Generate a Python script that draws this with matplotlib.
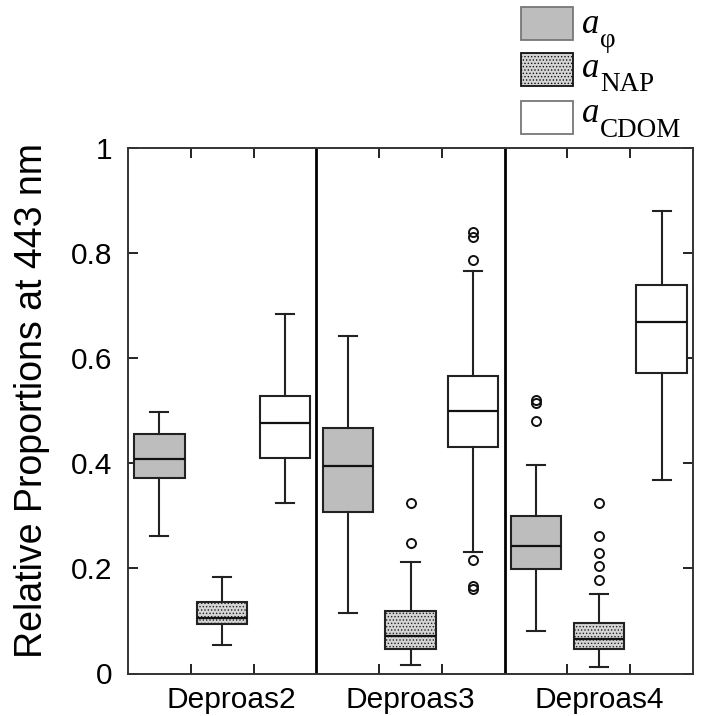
import matplotlib
matplotlib.use('Agg')
import matplotlib.pyplot as plt
from matplotlib.patches import Rectangle

plt.rcParams['font.family'] = ['Liberation Sans', 'DejaVu Sans']
plt.rcParams['hatch.linewidth'] = 0.6
plt.rcParams['hatch.color'] = '#9a9a9a'

# cruises and the three absorption components
cruises = ['Deproas2', 'Deproas3', 'Deproas4']
comp_subs = ['φ', 'NAP', 'CDOM']

# box statistics: [whislo, q1, med, q3, whishi]
a_phi = [[0.262, 0.372, 0.408, 0.455, 0.498],
         [0.116, 0.307, 0.395, 0.468, 0.642],
         [0.080, 0.199, 0.242, 0.299, 0.396]]
a_nap = [[0.054, 0.094, 0.106, 0.137, 0.183],
         [0.016, 0.046, 0.071, 0.119, 0.213],
         [0.013, 0.046, 0.066, 0.097, 0.152]]
a_cdom = [[0.324, 0.411, 0.477, 0.529, 0.685],
          [0.232, 0.431, 0.499, 0.567, 0.766],
          [0.368, 0.571, 0.668, 0.740, 0.881]]

# outliers
fliers_phi = [[], [], [0.481, 0.514, 0.521]]
fliers_nap = [[], [0.248, 0.325], [0.177, 0.205, 0.230, 0.261, 0.324]]
fliers_cdom = [[], [0.160, 0.167, 0.216, 0.786, 0.831, 0.840], []]

yticks = [0, 0.2, 0.4, 0.6, 0.8, 1]
ytick_labels = ['0', '0.2', '0.4', '0.6', '0.8', '1']

face_colors = ['#bdbdbd', '#d4d4d4', 'white']
hatches = [None, '.....', None]
legend_edges = ['#777777', '#111111', '#777777']


def make_stats(vals, fl):
    return {'whislo': vals[0], 'q1': vals[1], 'med': vals[2],
            'q3': vals[3], 'whishi': vals[4], 'fliers': fl}


W, H = 702, 716
fig = plt.figure(figsize=(W / 100, H / 100), dpi=100)
ax = fig.add_axes([128 / W, 1 - 673.5 / H, 565 / W, 525.5 / H])

all_stats = [a_phi, a_nap, a_cdom]
all_fliers = [fliers_phi, fliers_nap, fliers_cdom]

for k in range(3):
    stats = [make_stats(all_stats[k][i], all_fliers[k][i]) for i in range(3)]
    positions = [3 * i + k + 1 for i in range(3)]
    bp = ax.bxp(stats, positions=positions, widths=0.8, capwidths=0.29,
                patch_artist=True, manage_ticks=False,
                boxprops=dict(linewidth=1.5, edgecolor='#222222'),
                whiskerprops=dict(linewidth=1.5, color='#222222'),
                capprops=dict(linewidth=1.5, color='#222222'),
                medianprops=dict(linewidth=1.6, color='#111111'),
                flierprops=dict(marker='o', markersize=6.5, markerfacecolor='none',
                                markeredgecolor='#111111', markeredgewidth=1.4))
    for box in bp['boxes']:
        box.set_facecolor(face_colors[k])
        if hatches[k]:
            box.set_hatch(hatches[k])

# separators between cruises
for xs in [3.5, 6.5]:
    ax.axvline(xs, color='black', linewidth=2.0)

ax.set_xlim(0.5, 9.5)
ax.set_ylim(0, 1)
ax.set_yticks(yticks)
ax.set_yticklabels(ytick_labels)
ax.set_xticks([1.5, 2.5, 4.5, 5.5, 7.5, 8.5])
ax.set_xticklabels([])
ax.set_xticks([2.15, 5, 8], minor=True)
ax.set_xticklabels(cruises, minor=True)
ax.tick_params(axis='both', which='major', direction='in', length=7.2, width=1.4,
               top=True, right=True, labelsize=21.5, colors='#222222', labelcolor='black')
ax.tick_params(axis='x', which='minor', length=0, labelsize=21.5, pad=9)
ax.tick_params(axis='y', pad=11)
for sp in ax.spines.values():
    sp.set_linewidth(1.4)
    sp.set_color('#333333')

ax.set_ylabel('Relative Proportions at 443 nm', fontsize=27)
ax.yaxis.set_label_coords((50 - 128) / 565, (673.5 - 401) / 525.5)

# legend drawn above the axes, top right
serif = ['Liberation Serif', 'DejaVu Serif']
box_top = [7, 53, 101]
a_base = [33, 77, 122]
sub_base = [47, 91, 137]
for k in range(3):
    fig.add_artist(Rectangle((521 / W, 1 - (box_top[k] + 33) / H), 52 / W, 33 / H,
                             transform=fig.transFigure, facecolor=face_colors[k],
                             edgecolor=legend_edges[k], hatch=hatches[k], linewidth=1.3))
    fig.text(582 / W, 1 - a_base[k] / H, 'a', family=serif, style='italic',
             fontsize=25, va='baseline', ha='left')
    fig.text(600 / W, 1 - sub_base[k] / H, comp_subs[k], family=serif,
             fontsize=19.5, va='baseline', ha='left')

fig.savefig('out.png', dpi=100)
